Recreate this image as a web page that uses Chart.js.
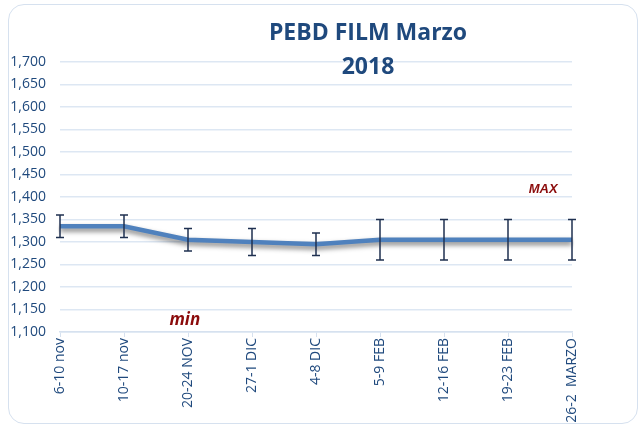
<!DOCTYPE html>
<html>
<head>
<meta charset="utf-8">
<script src="https://cdn.jsdelivr.net/npm/chart.js@4"></script>
<style>
  body { margin: 0; background: #fff; }
  #wrap { position: relative; width: 643px; height: 428px; }
  #frame { position: absolute; left: 8px; top: 4px; width: 630px; height: 420px;
           border: 1.5px solid #d6e1ef; border-radius: 16px; box-sizing: border-box; }
  canvas { position: absolute; left: 0; top: 0; }
</style>
</head>
<body>
<div id="wrap">
  <div id="frame"></div>
  <canvas id="myChart" width="643" height="428"></canvas>
</div>
<script>
const labels = ['6-10 nov', '10-17 nov', '20-24 NOV', '27-1 DIC', '4-8 DIC', '5-9 FEB', '12-16 FEB', '19-23 FEB', '26-2  MARZO'];
const prices = [1335, 1335, 1305, 1300, 1295, 1305, 1305, 1305, 1305];
const errHigh = [1360, 1360, 1330, 1330, 1320, 1350, 1350, 1350, 1350];
const errLow = [1310, 1310, 1280, 1270, 1270, 1260, 1260, 1260, 1260];
const yMin = 1100;
const yMax = 1700;
const yStep = 50;

const blue = '#1f497d';

// shadow under the line
const lineShadow = {
    id: 'lineShadow',
    beforeDatasetDraw(chart) {
        const ctx = chart.ctx;
        ctx.save();
        ctx.shadowColor = 'rgba(0,0,0,0.5)';
        ctx.shadowBlur = 5;
        ctx.shadowOffsetY = 3;
    },
    afterDatasetDraw(chart) {
        chart.ctx.restore();
    }
};

// error bars from errHigh / errLow
const errorBars = {
    id: 'errorBars',
    afterDatasetsDraw(chart) {
        const ctx = chart.ctx;
        const x = chart.scales.x, y = chart.scales.y;
        ctx.save();
        ctx.strokeStyle = '#1f3050';
        ctx.lineWidth = 1.5;
        for (let i = 0; i < labels.length; i++) {
            let px = x.getPixelForValue(i);
            let top = y.getPixelForValue(errHigh[i]);
            let bot = y.getPixelForValue(errLow[i]);
            ctx.beginPath();
            ctx.moveTo(px, top); ctx.lineTo(px, bot);
            ctx.moveTo(px - 4, top); ctx.lineTo(px + 4, top);
            ctx.moveTo(px - 4, bot); ctx.lineTo(px + 4, bot);
            ctx.stroke();
        }
        ctx.restore();
    }
};

// title and the min / MAX notes
const notes = {
    id: 'notes',
    afterDraw(chart) {
        const ctx = chart.ctx;
        const x = chart.scales.x, y = chart.scales.y;
        const area = chart.chartArea;
        ctx.save();
        ctx.textAlign = 'center';
        ctx.fillStyle = blue;
        ctx.font = 'bold 23px "Open Sans"';
        let cx = (area.left + area.right) / 2 + 52;
        ctx.fillText('PEBD FILM Marzo', cx, area.top - 22);
        ctx.fillText('2018', cx, area.top + 12);
        ctx.fillStyle = '#8b0b0b';
        ctx.font = 'italic bold 13px "Liberation Sans"';
        ctx.fillText('MAX', x.getPixelForValue(7.55), y.getPixelForValue(1420) + 5);
        ctx.font = 'italic bold 17px "Open Sans"';
        ctx.fillText('min', x.getPixelForValue(1.95), y.getPixelForValue(1129) + 6);
        ctx.restore();
    }
};

const ctx = document.getElementById('myChart').getContext('2d');
new Chart(ctx, {
    type: 'line',
    data: {
        labels: labels,
        datasets: [{
            data: prices,
            borderColor: '#4f81bd',
            borderWidth: 4.5,
            pointRadius: 0,
            tension: 0,
            fill: false
        }]
    },
    options: {
        responsive: false,
        animation: false,
        layout: { padding: { top: 62, right: 71, left: 0, bottom: 0 } },
        plugins: {
            legend: { display: false },
            tooltip: { enabled: false }
        },
        scales: {
            x: {
                offset: false,
                afterFit: s => { s.height = 96; },
                grid: { drawOnChartArea: false, drawTicks: true, tickLength: 5, color: '#d6e1ef' },
                border: { color: '#d6e1ef', width: 1.5 },
                ticks: {
                    minRotation: 90, maxRotation: 90, padding: 1,
                    color: blue, font: { family: 'Open Sans', size: 14 }
                }
            },
            y: {
                min: yMin, max: yMax,
                afterFit: s => { s.width = 60; },
                grid: { drawTicks: false, color: '#dde7f3', lineWidth: 1.5 },
                border: { display: false },
                ticks: {
                    stepSize: yStep, padding: 14,
                    color: blue, font: { family: 'Open Sans', size: 14 },
                    callback: v => v.toLocaleString('en-US')
                }
            }
        }
    },
    plugins: [lineShadow, errorBars, notes]
});
</script>
</body>
</html>
